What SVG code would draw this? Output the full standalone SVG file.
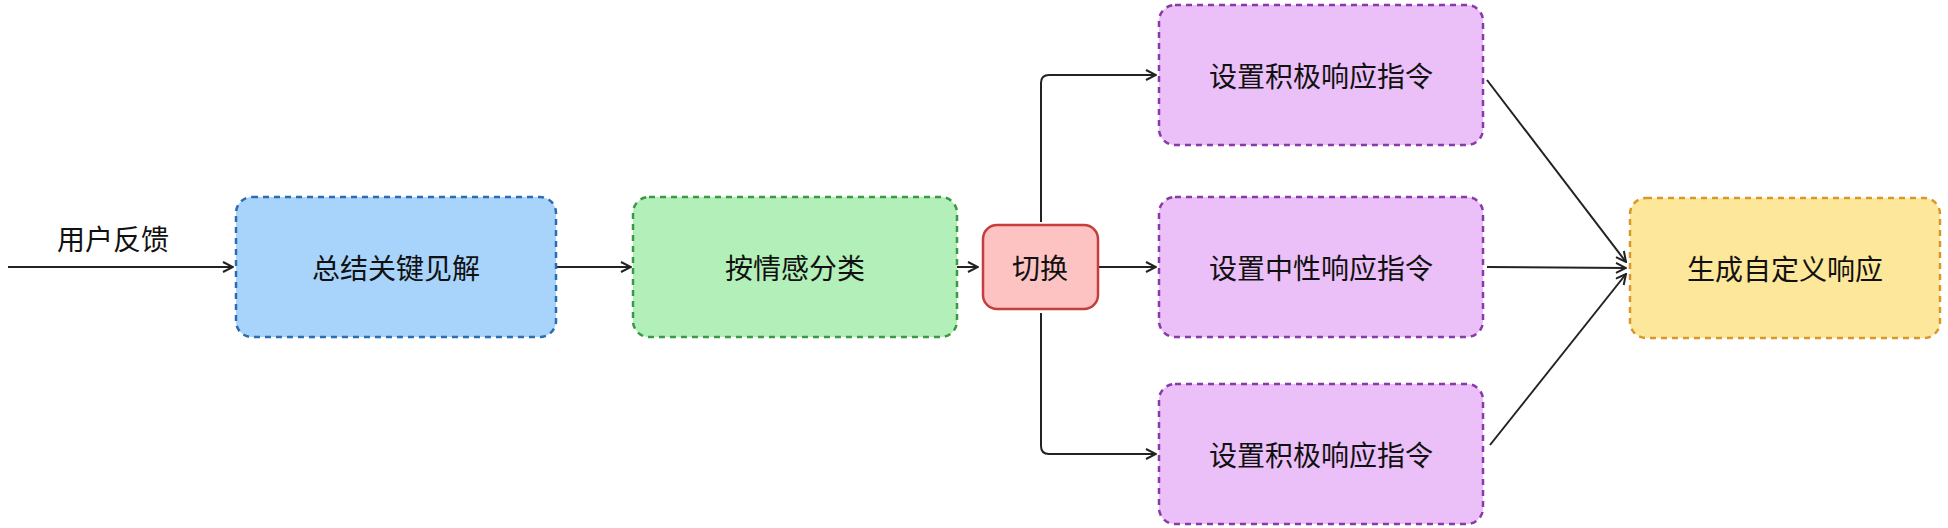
<svg xmlns="http://www.w3.org/2000/svg" width="1948" height="528" viewBox="0 0 1948 528">
<style>
text{font-family:"Noto Sans CJK SC","Noto Sans",sans-serif;font-size:28px;fill:#111;text-anchor:middle;dominant-baseline:central}
.n{stroke-width:2.5;stroke-dasharray:6 5}
.c{fill:none;stroke:#222;stroke-width:2}
</style>
<defs><marker id="a" viewBox="0 0 12 12" refX="11" refY="6" markerWidth="12" markerHeight="12" markerUnits="userSpaceOnUse" orient="auto"><path d="M1 1L11 6L1 11" fill="none" stroke="#222" stroke-width="2"/></marker></defs>
<rect width="1948" height="528" fill="#fff"/>
<g id="connectors">
<path class="c" d="M8 267H233" marker-end="url(#a)"/>
<path class="c" d="M557 267H631" marker-end="url(#a)"/>
<path class="c" d="M957 267H978" marker-end="url(#a)"/>
<path class="c" d="M1041 222V83Q1041 75 1049 75H1156" marker-end="url(#a)"/>
<path class="c" d="M1098 267H1156" marker-end="url(#a)"/>
<path class="c" d="M1041 313V446Q1041 454 1049 454H1156" marker-end="url(#a)"/>
<path class="c" d="M1487 80L1626 262" marker-end="url(#a)"/>
<path class="c" d="M1487 267L1626 268" marker-end="url(#a)"/>
<path class="c" d="M1490 445L1626 274" marker-end="url(#a)"/>
</g>
<text x="113" y="238" font-size="27">用户反馈</text>
<g id="n1"><rect class="n" x="236" y="197" width="320" height="140" rx="16" fill="#a8d4fb" stroke="#2a6db0"/><text x="396" y="267">总结关键见解</text></g>
<g id="n2"><rect class="n" x="633" y="197" width="324" height="140" rx="16" fill="#b3efb8" stroke="#3a9a44"/><text x="795" y="267">按情感分类</text></g>
<g id="n3"><rect x="983" y="225" width="115" height="84" rx="14" fill="#fdc3c3" stroke="#c63d3d" stroke-width="2.5"/><text x="1040" y="267">切换</text></g>
<g id="n4"><rect class="n" x="1159" y="5" width="324" height="140" rx="16" fill="#ebbff7" stroke="#8a3aa8"/><text x="1321" y="75">设置积极响应指令</text></g>
<g id="n5"><rect class="n" x="1159" y="197" width="324" height="140" rx="16" fill="#ebbff7" stroke="#8a3aa8"/><text x="1321" y="267">设置中性响应指令</text></g>
<g id="n6"><rect class="n" x="1159" y="384" width="324" height="140" rx="16" fill="#ebbff7" stroke="#8a3aa8"/><text x="1321" y="454">设置积极响应指令</text></g>
<g id="n7"><rect class="n" x="1630" y="198" width="310" height="140" rx="16" fill="#fde79a" stroke="#d9962a"/><text x="1785" y="268">生成自定义响应</text></g>
</svg>
